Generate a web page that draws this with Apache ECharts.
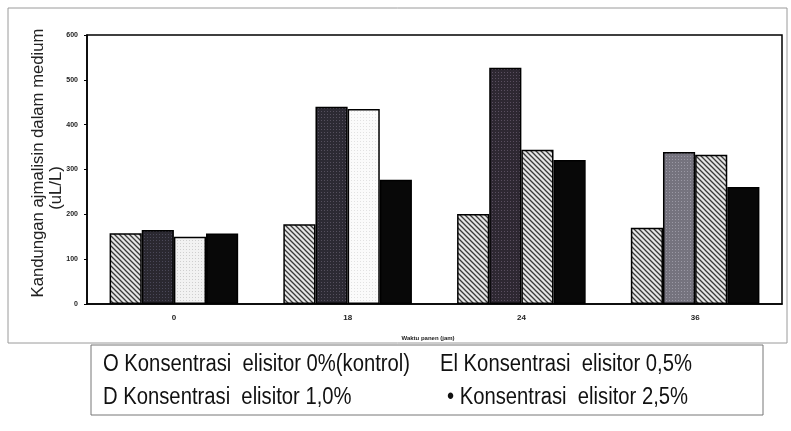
<!DOCTYPE html>
<html>
<head>
<meta charset="utf-8">
<script src="https://cdn.jsdelivr.net/npm/echarts@6/dist/echarts.min.js"></script>
<style>
html,body{margin:0;padding:0;background:#fff;}
#chart{width:791px;height:431px;}
</style>
</head>
<body>
<div id="chart"></div>
<script>
const categories = ['0', '18', '24', '36'];
const seriesNames = [
  'O Konsentrasi  elisitor 0%(kontrol)',
  'El Konsentrasi  elisitor 0,5%',
  'D Konsentrasi  elisitor 1,0%',
  '• Konsentrasi  elisitor 2,5%'
];
const control0 = [158, 178, 201, 170];
const elicitor05 = [165, 440, 527, 339];
const elicitor10 = [150, 435, 344, 333];
const elicitor25 = [157, 277, 321, 261];
const yTicks = [0, 100, 200, 300, 400, 500, 600];
const yTitle1 = 'Kandungan ajmalisin dalam medium';
const yTitle2 = '(uL/L)';
const xTitle = 'Waktu panen (jam)';

function hatch(bg, fg) {
  const c = document.createElement('canvas');
  c.width = 5; c.height = 5;
  const g = c.getContext('2d');
  g.fillStyle = bg; g.fillRect(0, 0, 5, 5);
  g.strokeStyle = fg; g.lineWidth = 1.3;
  g.beginPath();
  g.moveTo(-1, -1); g.lineTo(6, 6);
  g.moveTo(-1, 4); g.lineTo(1, 6);
  g.moveTo(4, -1); g.lineTo(6, 1);
  g.stroke();
  return { image: c, repeat: 'repeat' };
}
function dots(bg, fg) {
  const c = document.createElement('canvas');
  c.width = 3; c.height = 3;
  const g = c.getContext('2d');
  g.fillStyle = bg; g.fillRect(0, 0, 3, 3);
  g.fillStyle = fg; g.fillRect(0, 0, 1, 1);
  return { image: c, repeat: 'repeat' };
}

const hatchFill = hatch('#e6e6e6', '#3a3a3a');
const border = { borderColor: '#000', borderWidth: 1.5 };

const chart = echarts.init(document.getElementById('chart'), null, { renderer: 'canvas' });

const s3Colors = [dots('#f2f2f2', '#cfcfcf'), dots('#fbfbfb', '#e2e2e2'), hatchFill, hatchFill];
const s2Colors = [dots('#2a2830', '#4a4858'), dots('#2c2a33', '#55505e'), dots('#2e2832', '#5a4f60'), dots('#75737e', '#9a98a4')];

const legendFont = '23px "Liberation Sans"';
const legendScale = 0.88;

chart.setOption({
  animation: false,
  backgroundColor: '#fff',
  grid: { left: 87, right: 9, top: 35, bottom: 127, show: true, borderColor: '#000', borderWidth: 1.5, containLabel: false },
  xAxis: {
    type: 'category',
    data: categories,
    axisLine: { lineStyle: { color: '#000', width: 1.5 } },
    axisTick: { show: false },
    axisLabel: { color: '#222', fontSize: 8, fontWeight: 'bold', fontFamily: 'Liberation Sans', margin: 10 }
  },
  yAxis: {
    type: 'value',
    min: 0, max: 600, interval: 100,
    splitLine: { show: false },
    axisLine: { show: true, lineStyle: { color: '#000', width: 1.5 } },
    axisTick: { show: true, length: 3, lineStyle: { color: '#000' } },
    axisLabel: { color: '#222', fontSize: 7, fontWeight: 'bold', fontFamily: 'Liberation Sans', margin: 9,
      formatter: v => yTicks.includes(v) ? String(v) : '' }
  },
  series: [
    { name: seriesNames[0], type: 'bar', data: control0, barGap: '0%', barCategoryGap: '26%',
      itemStyle: Object.assign({ color: hatchFill }, border) },
    { name: seriesNames[1], type: 'bar', data: elicitor05.map((v, i) => ({ value: v, itemStyle: { color: s2Colors[i] } })),
      itemStyle: Object.assign({ color: '#2a2830' }, border) },
    { name: seriesNames[2], type: 'bar', data: elicitor10.map((v, i) => ({ value: v, itemStyle: { color: s3Colors[i] } })),
      itemStyle: Object.assign({ color: '#f2f2f2' }, border) },
    { name: seriesNames[3], type: 'bar', data: elicitor25,
      itemStyle: Object.assign({ color: '#080808' }, border) }
  ],
  graphic: [
    { type: 'rect', shape: { x: 8, y: 8, width: 779, height: 335 }, style: { fill: 'none', stroke: '#9a9a9a', lineWidth: 1 }, silent: true },
    { type: 'text', x: 38, y: 163, rotation: Math.PI / 2, style: { text: yTitle1, fill: '#222', font: '16.7px "Liberation Sans"', align: 'center', verticalAlign: 'middle' } },
    { type: 'text', x: 56, y: 188, rotation: Math.PI / 2, style: { text: yTitle2, fill: '#222', font: '16.7px "Liberation Sans"', align: 'center', verticalAlign: 'middle' } },
    { type: 'text', x: 428, y: 338, style: { text: xTitle, fill: '#222', font: 'bold 6px "Liberation Sans"', align: 'center', verticalAlign: 'middle' } },
    { type: 'rect', shape: { x: 91, y: 345, width: 672, height: 70 }, style: { fill: '#fff', stroke: '#777', lineWidth: 1 }, silent: true },
    { type: 'text', x: 103, y: 365, scaleX: legendScale, style: { text: seriesNames[0], fill: '#111', font: legendFont, verticalAlign: 'middle' } },
    { type: 'text', x: 440, y: 365, scaleX: legendScale, style: { text: seriesNames[1], fill: '#111', font: legendFont, verticalAlign: 'middle' } },
    { type: 'text', x: 103, y: 398, scaleX: legendScale, style: { text: seriesNames[2], fill: '#111', font: legendFont, verticalAlign: 'middle' } },
    { type: 'text', x: 447, y: 398, scaleX: legendScale, style: { text: seriesNames[3], fill: '#111', font: legendFont, verticalAlign: 'middle' } }
  ]
});
</script>
</body>
</html>
